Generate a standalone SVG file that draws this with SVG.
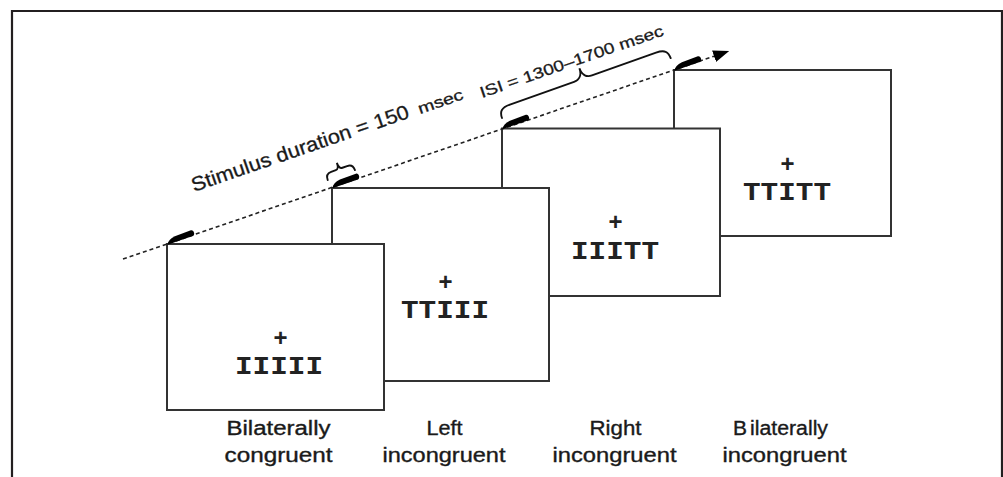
<svg xmlns="http://www.w3.org/2000/svg" width="1003" height="477" viewBox="0 0 1003 477">
  <style>
    .frame{fill:none;stroke:#231f20;stroke-width:2.2}
    .card{fill:#fff;stroke:#333;stroke-width:2}
    .plus{font-family:"Liberation Sans",Arial,sans-serif;font-weight:bold;font-size:24px;fill:#222}
    .str{font-family:"Liberation Mono","Courier New",monospace;font-weight:bold;font-size:26px;fill:#222}
    .lbl{font-family:"Liberation Sans",Arial,sans-serif;font-size:19.5px;fill:#1a1a1a;stroke:#1a1a1a;stroke-width:0.35}
    .note{font-family:"Liberation Sans",Arial,sans-serif;fill:#1a1a1a;stroke:#1a1a1a;stroke-width:0.3}
    .time{fill:none;stroke:#222;stroke-width:1.6;stroke-dasharray:4 3}
    .brace{fill:none;stroke:#111;stroke-width:1.9;stroke-linecap:round}
    .onset{fill:#000}
  </style>
  <defs>
    <marker id="arrow" viewBox="0 0 16 12" refX="1" refY="6" markerWidth="16" markerHeight="12" markerUnits="userSpaceOnUse" orient="auto">
      <path d="M0,0 L16,6 L0,12 z" fill="#000"/>
    </marker>
    <!-- stimulus onset wedge, drawn along the time axis -->
    <path id="seg" d="M0,0.8 L27,0.8 C30,0.8 30,-5.2 27,-5.2 L10,-4.8 C5,-4.3 2,-2.5 0,0.8 Z"/>
  </defs>

  <!-- outer frame -->
  <path class="frame" d="M12,477 V11 H1002 V477"/>

  <!-- cards, back to front -->
  <g id="card-bilateral-incongruent">
    <rect class="card" x="674" y="70" width="217" height="166"/>
    <text class="plus" x="780.5" y="171.5">+</text>
    <text class="str" x="743" y="200" textLength="88" lengthAdjust="spacingAndGlyphs">TTITT</text>
    <text class="lbl" y="435"><tspan x="733" textLength="14" lengthAdjust="spacingAndGlyphs">B</tspan><tspan x="750" textLength="78" lengthAdjust="spacingAndGlyphs">ilaterally</tspan></text>
    <text class="lbl" x="722.5" y="462" textLength="124" lengthAdjust="spacingAndGlyphs">incongruent</text>
  </g>

  <g id="card-right-incongruent">
    <rect class="card" x="502" y="128.5" width="218" height="167.5"/>
    <text class="plus" x="608.5" y="230">+</text>
    <text class="str" x="571" y="258.5" textLength="88" lengthAdjust="spacingAndGlyphs">IIITT</text>
    <text class="lbl" x="589.5" y="435" textLength="52" lengthAdjust="spacingAndGlyphs">Right</text>
    <text class="lbl" x="552.5" y="462" textLength="124" lengthAdjust="spacingAndGlyphs">incongruent</text>
  </g>

  <g id="card-left-incongruent">
    <rect class="card" x="332" y="188" width="217" height="193"/>
    <text class="plus" x="438.5" y="289.5">+</text>
    <text class="str" x="401" y="318" textLength="88" lengthAdjust="spacingAndGlyphs">TTIII</text>
    <text class="lbl" x="426.5" y="435" textLength="36" lengthAdjust="spacingAndGlyphs">Left</text>
    <text class="lbl" x="382.5" y="462" textLength="123" lengthAdjust="spacingAndGlyphs">incongruent</text>
  </g>

  <g id="card-bilateral-congruent">
    <rect class="card" x="167" y="244" width="217" height="166"/>
    <text class="plus" x="273.5" y="345.5">+</text>
    <text class="str" x="235" y="374" textLength="88" lengthAdjust="spacingAndGlyphs">IIIII</text>
    <text class="lbl" x="226.5" y="435" textLength="104" lengthAdjust="spacingAndGlyphs">Bilaterally</text>
    <text class="lbl" x="224.5" y="462" textLength="108" lengthAdjust="spacingAndGlyphs">congruent</text>
  </g>

  <!-- time axis, onsets, braces and interval labels -->
  <g id="connectors">
    <path class="time" d="M123,259.1 L715,55.9" marker-end="url(#arrow)"/>
    <use href="#seg" class="onset" transform="translate(167,244) rotate(-18.94)"/>
    <use href="#seg" class="onset" transform="translate(332,187.4) rotate(-18.94)"/>
    <use href="#seg" class="onset" transform="translate(502,128.5) rotate(-18.94)"/>
    <use href="#seg" class="onset" transform="translate(674,70) rotate(-18.94)"/>

    <!-- stimulus duration brace -->
    <path class="brace" transform="translate(327.7,180) rotate(-20)" d="M0,0 C0,-4.5 2,-6.5 6,-6.5 L11,-6.5 C13,-6.5 14.5,-8.5 14.5,-13 C14.5,-8.5 16,-6.5 18,-6.5 L23,-6.5 C27,-6.5 29,-4.5 29,0"/>
    <!-- inter-stimulus interval brace -->
    <path class="brace" transform="translate(502,118) rotate(-19.55)" d="M0,0 C0,-7 3,-10 12,-10 L80,-10 C86,-10 89.6,-14 89.6,-21 C89.6,-14 93,-10 99,-10 L167,-10 C176,-10 179,-7 179,0"/>

    <g transform="translate(194,192) rotate(-19)">
      <text class="note" x="0" y="0" font-size="20" textLength="229" lengthAdjust="spacingAndGlyphs">Stimulus duration = 150</text>
      <text class="note" x="239" y="0" font-size="15.5" textLength="47" lengthAdjust="spacingAndGlyphs">msec</text>
    </g>
    <g transform="translate(482,98) rotate(-19)">
      <text class="note" x="0" y="0" font-size="15.5" textLength="193" lengthAdjust="spacingAndGlyphs">ISI = 1300–1700 msec</text>
    </g>
  </g>
</svg>
